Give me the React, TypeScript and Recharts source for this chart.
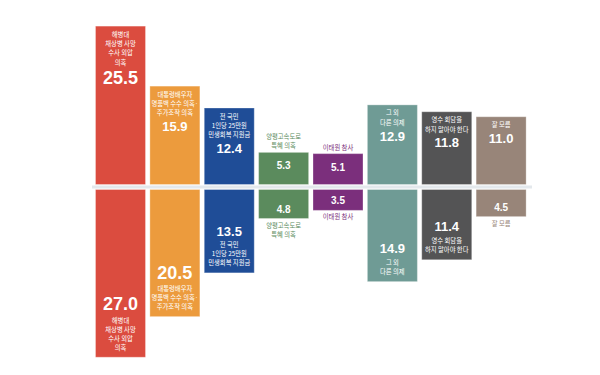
import { BarChart, Bar, XAxis, YAxis, ReferenceLine, Cell } from 'recharts'

// category labels, one array of lines per column
const labelLines = [
  ['해병대', '채상병 사망', '수사 외압', '의혹'],
  ['대통령배우자', '명품백 수수 의혹·', '주가조작 의혹'],
  ['전 국민', '1인당 25만원', '민생회복 지원금'],
  ['양평고속도로', '특혜 의혹'],
  ['이태원 참사'],
  ['그 외', '다른 의제'],
  ['영수 회담을', '하지 말아야 한다'],
  ['잘 모름'],
]
const upperValues = [25.5, 15.9, 12.4, 5.3, 5.1, 12.9, 11.8, 11.0]
const lowerValues = [27.0, 20.5, 13.5, 4.8, 3.5, 14.9, 11.4, 4.5]
const colors = ['#db4c3f', '#ec9b3d', '#1f4d97', '#5b8b5d', '#7b2f7c', '#6f9b95', '#545455', '#988579']

const data = labelLines.map((lines, i) => ({
  name: lines.join(' '),
  upper: upperValues[i],
  lower: -lowerValues[i],
}))

const GAP = 2
const NUM_FONT = "'Liberation Sans', Arial, sans-serif"
const KR_FONT = "'Noto Sans CJK KR', sans-serif"

const valueSize = (v: number) => (v >= 20 ? 18 : v >= 10 ? 13 : 10)

function makeShape(side: 'up' | 'down') {
  return (p: any) => {
    const i = p.index
    const color = colors[i]
    const v = side === 'up' ? upperValues[i] : lowerValues[i]
    const h = Math.abs(p.height)
    const top0 = Math.min(p.y, p.y + p.height)
    const y = side === 'up' ? top0 - GAP : top0 + GAP
    const bottom = y + h
    const cx = p.x + p.width / 2
    const lines = labelLines[i]
    const n = lines.length
    const fs = valueSize(v)
    const inside = v >= 10

    const nameText = (t: string, ty: number, fill: string, k: number) => (
      <text
        key={k}
        x={cx}
        y={ty}
        textAnchor="middle"
        dominantBaseline="central"
        fontSize={6.3}
        fontFamily={KR_FONT}
        fill={fill}
      >
        {t}
      </text>
    )
    const valueText = (ty: number) => (
      <text
        x={cx}
        y={ty}
        textAnchor="middle"
        dominantBaseline="central"
        fontSize={fs}
        fontWeight={700}
        fontFamily={NUM_FONT}
        fill="#fff"
      >
        {v.toFixed(1)}
      </text>
    )

    let names: any[] = []
    let val = null
    if (side === 'up') {
      if (inside) {
        names = lines.map((t, k) => nameText(t, y + 8.5 + k * 9.3, '#fff', k))
        val = valueText(y + 8.5 + (n - 1) * 9.3 + 8 + fs * 0.45)
      } else {
        names = lines.map((t, k) => nameText(t, y - 6 - (n - 1 - k) * 9.5, color, k))
        val = valueText(y + 14)
      }
    } else {
      if (inside) {
        const last = bottom - 10.5
        names = lines.map((t, k) => nameText(t, last - (n - 1 - k) * 9, '#fff', k))
        val = valueText(last - (n - 1) * 9 - 8 - fs * 0.45)
      } else {
        names = lines.map((t, k) => nameText(t, bottom + 6 + k * 9, color, k))
        val = valueText(Math.max(bottom - 10, y + 8))
      }
    }

    return (
      <g>
        <rect
          x={p.x + 0.5}
          y={y + 0.5}
          width={p.width - 1}
          height={h - 1}
          fill={color}
          stroke="rgba(255,255,255,0.3)"
          strokeWidth={1}
        />
        {names}
        {val}
      </g>
    )
  }
}

export default function App() {
  return (
    <div style={{ width: 600, height: 375, background: '#fff' }}>
      <style>{'body{margin:0}'}</style>
      <BarChart
        width={600}
        height={375}
        data={data}
        stackOffset="sign"
        margin={{ top: 12, right: 68, bottom: 13, left: 92 }}
        barSize={51}
      >
        <XAxis dataKey="name" hide padding={{ left: 1, right: 4 }} />
        <YAxis type="number" domain={[-28, 28]} hide allowDataOverflow />
        <ReferenceLine y={0} stroke="#e3e8ec" strokeWidth={3} />
        <Bar dataKey="upper" stackId="a" shape={makeShape('up')} isAnimationActive={false}>
          {data.map((d, i) => (
            <Cell key={d.name} fill={colors[i]} />
          ))}
        </Bar>
        <Bar dataKey="lower" stackId="a" shape={makeShape('down')} isAnimationActive={false}>
          {data.map((d, i) => (
            <Cell key={d.name} fill={colors[i]} />
          ))}
        </Bar>
      </BarChart>
    </div>
  )
}
